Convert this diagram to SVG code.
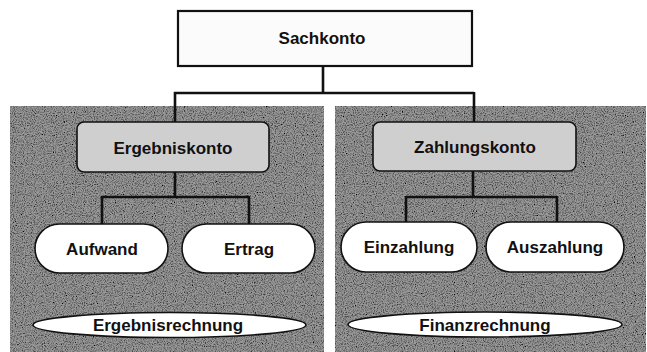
<svg xmlns="http://www.w3.org/2000/svg" width="647" height="352" viewBox="0 0 647 352">
<defs>
<filter id="grain" x="0" y="0" width="100%" height="100%">
<feTurbulence type="fractalNoise" baseFrequency="0.9" numOctaves="2" seed="3" result="n"/>
<feColorMatrix in="n" type="matrix" values="0 0 0 0 0  0 0 0 0 0  0 0 0 0 0  0 0 0 -2.2 1.35" result="dots"/>
<feComposite in="dots" in2="SourceGraphic" operator="in" result="d"/>
<feMerge><feMergeNode in="SourceGraphic"/><feMergeNode in="d"/></feMerge>
</filter>
<style>
.panel{fill:#9a9a9a;}
.top{fill:#fbfbfb;stroke:#111;stroke-width:2.2;}
.mid{fill:#cfcfcf;stroke:#111;stroke-width:1.6;}
.pill{fill:#ffffff;stroke:#111;stroke-width:1.6;}
.conn{fill:none;stroke:#111;stroke-width:2.6;}
text{font-family:"Liberation Sans",Arial,sans-serif;font-weight:bold;font-size:17px;fill:#111;text-anchor:middle;}
</style>
</defs>
<rect width="647" height="352" fill="#ffffff"/>
<g id="panels">
<rect id="panel-left" class="panel" x="10" y="106" width="314" height="246" filter="url(#grain)"/>
<rect id="panel-right" class="panel" x="335" y="106" width="311" height="246" filter="url(#grain)"/>
</g>
<g id="connectors">
<path class="conn" d="M323 66 V93 M174 93 H474 M175 92 V123 M474 92 V122"/>
<path class="conn" d="M175 172 V197 M102 197 H249 M102 196 V224 M249 196 V224"/>
<path class="conn" d="M473 171 V197 M406 197 H557 M406 196 V222 M557 196 V222"/>
</g>
<g id="sachkonto">
<rect class="top" x="178" y="11" width="294" height="55"/>
<text x="322" y="44">Sachkonto</text>
</g>
<g id="ergebniskonto">
<rect class="mid" x="77" y="122" width="192" height="50" rx="7"/>
<text x="173" y="154">Ergebniskonto</text>
</g>
<g id="zahlungskonto">
<rect class="mid" x="373" y="122" width="203" height="49" rx="7"/>
<text x="475" y="153">Zahlungskonto</text>
</g>
<g id="aufwand">
<rect class="pill" x="35" y="224" width="133" height="49" rx="24.5"/>
<text x="102" y="255">Aufwand</text>
</g>
<g id="ertrag">
<rect class="pill" x="182" y="224" width="133" height="49" rx="24.5"/>
<text x="249" y="255">Ertrag</text>
</g>
<g id="einzahlung">
<rect class="pill" x="341" y="222" width="136" height="50" rx="25"/>
<text x="409" y="253">Einzahlung</text>
</g>
<g id="auszahlung">
<rect class="pill" x="486" y="222" width="138" height="50" rx="25"/>
<text x="555" y="253">Auszahlung</text>
</g>
<g id="ergebnisrechnung">
<ellipse class="pill" cx="169.5" cy="325" rx="136.5" ry="12.5"/>
<text x="168" y="331">Ergebnisrechnung</text>
</g>
<g id="finanzrechnung">
<ellipse class="pill" cx="485" cy="324.5" rx="137" ry="12.5"/>
<text x="485" y="330.5">Finanzrechnung</text>
</g>
</svg>
